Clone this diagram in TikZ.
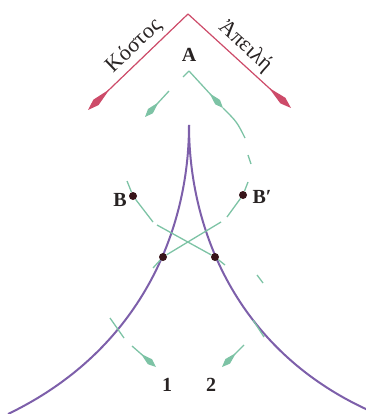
\documentclass[tikz,border=0pt]{standalone}
\usepackage{fontspec}
\setmainfont{Liberation Serif}
\usetikzlibrary{arrows.meta}
\definecolor{axisred}{RGB}{205,75,105}
\definecolor{foldpurple}{RGB}{125,95,170}
\definecolor{trackgreen}{RGB}{125,195,165}
\definecolor{dotbrown}{RGB}{55,20,25}
\definecolor{inkgrey}{RGB}{40,35,35}

\begin{document}
\begin{tikzpicture}[x=1pt,y=-1pt,font=\fontsize{20}{22}\selectfont]
    \tikzset{
      axis/.style={axisred, line width=1.2pt, -{Kite[length=30pt,width=7.5pt,inset=19pt]}},
      axislbl/.style={text=inkgrey, font=\fontsize{22}{24}\selectfont, inner sep=4pt},
      fold/.style={foldpurple, line width=2pt},
      track/.style={trackgreen, line width=1.3pt},
      trackhead/.style={track, -{Kite[length=20pt,width=6.5pt,inset=12pt]}},
      jump/.style={circle, fill=dotbrown, minimum size=8pt, inner sep=0pt},
      lbl/.style={text=inkgrey, font=\fontsize{20}{22}\selectfont\bfseries, inner sep=1pt}
    }
    \useasboundingbox (0,0) rectangle (365,414);
    % control axes
    \coordinate (apex) at (188,14);
    \coordinate (cost) at (88,110);
    \coordinate (threat) at (291,108);
    \draw[axis] (apex) -- node[axislbl, sloped, above, pos=0.44] {Κόστος} (cost);
    \draw[axis] (apex) -- node[axislbl, sloped, above, pos=0.46] {Ἀπειλή} (threat);
    % fold lines of the cusp
    \coordinate (cusp) at (189,125);
    \coordinate (endl) at (8,414);
    \coordinate (endr) at (368,410);
    \draw[fold] (cusp) .. controls (189,230) and (141,350) .. (endl);
    \draw[fold] (cusp) .. controls (189,230) and (237,350) .. (endr);
    % points on the surface
    \node[jump] (jl) at (163,257) {};
    \node[jump] (jr) at (215,257) {};
    \node[jump] (b) at (133,196) {};
    \node[jump] (bp) at (243,195) {};
    % track over B'
    \coordinate (a0) at (189,71);
    \coordinate (r1) at (223,108);
    \coordinate (r2) at (245,138);
    \coordinate (r3) at (248,155);
    \coordinate (r4) at (251,164);
    \coordinate (r5) at (248,182);
    \coordinate (r6) at (227,217);
    \coordinate (r7) at (221,222);
    \coordinate (r8) at (153,268);
    \coordinate (r9) at (110,318);
    \coordinate (r10) at (124,338);
    \coordinate (r11) at (132,346);
    \coordinate (r12) at (156,367);
    % track over B
    \coordinate (l1) at (183,77);
    \coordinate (l2) at (169,91);
    \coordinate (l3) at (145,117);
    \coordinate (l4) at (127,181);
    \coordinate (l5) at (153,222);
    \coordinate (l6) at (157,225);
    \coordinate (l7) at (225,265);
    \coordinate (l8) at (257,275);
    \coordinate (l9) at (263,283);
    \coordinate (l10) at (253,320);
    \coordinate (l11) at (264,337);
    \coordinate (l12) at (244,345);
    \coordinate (l13) at (222,367);
    \draw[trackhead] (a0) -- (r1);
    \draw[track] (r1) .. controls (237,122) .. (r2);
    \foreach \p/\q in {r3/r4,r5/bp,bp/r6,r7/jl,jl/r8,r9/r10,a0/l1,l4/b,b/l5,l6/jr,jr/l7,l8/l9,l10/l11} {
      \draw[track] (\p) -- (\q);
    }
    \foreach \p/\q in {r11/r12,l2/l3,l12/l13} {
      \draw[trackhead] (\p) -- (\q);
    }
    % labels
    \node[lbl] (la) at (189,55) {A};
    \node[lbl] (lb) at (120,200) {B};
    \node[lbl] (lbp) at (262,197) {B′};
    \node[lbl] (l1st) at (167,385) {1};
    \node[lbl] (l2nd) at (211,385) {2};
  \end{tikzpicture}
\end{document}
